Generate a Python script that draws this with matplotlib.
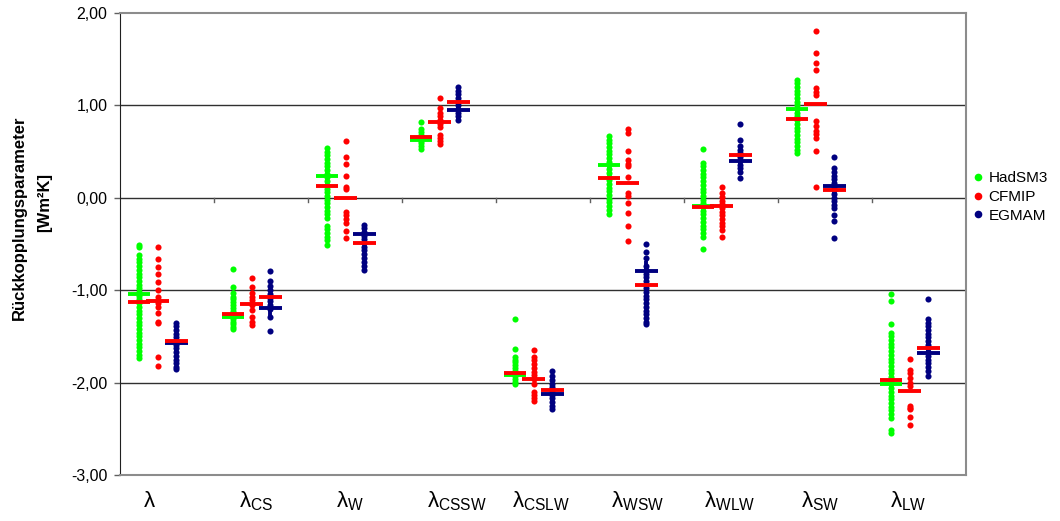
import matplotlib
matplotlib.use('Agg')
import matplotlib.pyplot as plt
import numpy as np
from matplotlib.ticker import FuncFormatter

plt.rcParams['font.family'] = ['Liberation Sans', 'DejaVu Sans']

categories = ['', 'CS', 'W', 'CSSW', 'CSLW', 'WSW', 'WLW', 'SW', 'LW']
series_names = ['HadSM3', 'CFMIP', 'EGMAM']
series_colors = ['#00ff00', '#ff0000', '#000080']

# HadSM3 ensemble members, one list per category
hadsm3 = [
    [-0.51, -0.53, -0.62, -0.66, -0.70, -0.74, -0.78, -0.82, -0.86, -0.90, -0.94, -0.98, -1.02, -1.06,
     -1.10, -1.14, -1.18, -1.22, -1.26, -1.30, -1.34, -1.38, -1.42, -1.46, -1.50, -1.54, -1.58, -1.62,
     -1.66, -1.70, -1.73],
    [-0.77, -0.97, -1.03, -1.07, -1.10, -1.13, -1.16, -1.19, -1.22, -1.25, -1.28, -1.31, -1.34, -1.37,
     -1.40, -1.42],
    [0.54, 0.50, 0.46, 0.42, 0.38, 0.34, 0.30, 0.26, 0.22, 0.18, 0.14, 0.10, 0.06, 0.02, -0.02, -0.06,
     -0.10, -0.14, -0.18, -0.22, -0.30, -0.34, -0.38, -0.42, -0.46, -0.51],
    [0.82, 0.74, 0.71, 0.68, 0.65, 0.62, 0.59, 0.56, 0.53],
    [-1.31, -1.64, -1.72, -1.75, -1.78, -1.81, -1.84, -1.87, -1.90, -1.93, -1.96, -1.99, -2.01],
    [0.67, 0.63, 0.59, 0.55, 0.51, 0.47, 0.43, 0.39, 0.35, 0.31, 0.27, 0.23, 0.19, 0.15, 0.11, 0.07,
     0.03, -0.01, -0.05, -0.09, -0.13, -0.18],
    [0.53, 0.38, 0.34, 0.30, 0.26, 0.22, 0.18, 0.14, 0.10, 0.06, 0.02, -0.02, -0.06, -0.10, -0.14,
     -0.18, -0.22, -0.26, -0.30, -0.34, -0.38, -0.42, -0.55],
    [1.28, 1.24, 1.20, 1.16, 1.12, 1.08, 1.04, 1.00, 0.96, 0.92, 0.88, 0.84, 0.80, 0.76, 0.72, 0.68,
     0.64, 0.60, 0.56, 0.52, 0.48],
    [-1.04, -1.12, -1.37, -1.46, -1.50, -1.54, -1.58, -1.62, -1.66, -1.70, -1.74, -1.78, -1.82, -1.86,
     -1.90, -1.94, -1.98, -2.02, -2.06, -2.10, -2.14, -2.18, -2.22, -2.26, -2.30, -2.34, -2.38, -2.51,
     -2.55],
]

cfmip = [
    [-0.53, -0.66, -0.75, -0.83, -0.91, -1.00, -1.07, -1.14, -1.18, -1.25, -1.34, -1.36, -1.72, -1.82],
    [-0.87, -0.97, -1.03, -1.07, -1.11, -1.16, -1.21, -1.29, -1.34, -1.38],
    [0.62, 0.44, 0.37, 0.24, 0.12, 0.09, -0.15, -0.19, -0.23, -0.27, -0.36, -0.43],
    [1.08, 0.97, 0.92, 0.88, 0.84, 0.80, 0.77, 0.68, 0.65, 0.61, 0.58],
    [-1.65, -1.72, -1.76, -1.80, -1.84, -1.88, -1.92, -1.96, -2.01, -2.10, -2.13, -2.17, -2.20],
    [0.74, 0.70, 0.51, 0.41, 0.37, 0.34, 0.22, 0.05, 0.02, -0.06, -0.16, -0.31, -0.47],
    [0.12, 0.05, 0.01, -0.03, -0.07, -0.11, -0.15, -0.19, -0.23, -0.27, -0.31, -0.35, -0.42],
    [1.80, 1.57, 1.46, 1.38, 1.19, 1.15, 1.11, 0.83, 0.78, 0.72, 0.69, 0.65, 0.51, 0.12],
    [-1.74, -1.86, -1.90, -1.95, -2.00, -2.04, -2.25, -2.27, -2.29, -2.37, -2.46],
]

egmam = [
    [-1.35, -1.39, -1.43, -1.47, -1.51, -1.55, -1.59, -1.63, -1.67, -1.71, -1.75, -1.79, -1.83, -1.85],
    [-0.79, -0.90, -0.95, -1.00, -1.04, -1.08, -1.12, -1.16, -1.20, -1.29, -1.44],
    [-0.29, -0.33, -0.37, -0.41, -0.45, -0.49, -0.53, -0.57, -0.61, -0.65, -0.70, -0.74, -0.78],
    [1.20, 1.16, 1.12, 1.08, 1.04, 1.00, 0.96, 0.92, 0.88, 0.84],
    [-1.87, -1.93, -1.97, -2.01, -2.05, -2.09, -2.13, -2.17, -2.21, -2.25, -2.29],
    [-0.50, -0.59, -0.65, -0.74, -0.78, -0.82, -0.86, -0.90, -0.94, -0.98, -1.02, -1.06, -1.10, -1.14,
     -1.18, -1.22, -1.26, -1.30, -1.34, -1.37],
    [0.80, 0.63, 0.56, 0.52, 0.48, 0.44, 0.40, 0.36, 0.32, 0.28, 0.21],
    [0.44, 0.32, 0.28, 0.24, 0.20, 0.16, 0.12, 0.08, 0.04, 0.00, -0.04, -0.08, -0.11, -0.19, -0.25, -0.43],
    [-1.09, -1.31, -1.35, -1.39, -1.43, -1.47, -1.51, -1.55, -1.59, -1.63, -1.67, -1.71, -1.75, -1.79,
     -1.83, -1.87, -1.93],
]

# "+" markers (ensemble mean) for HadSM3 and EGMAM
hadsm3_cross = [-1.04, -1.29, 0.24, 0.63, -1.92, 0.36, -0.09, 0.96, -2.01]
egmam_cross = [-1.57, -1.19, -0.39, 0.945, -2.12, -0.79, 0.40, 0.13, -1.68]
# red dashes for each series
hadsm3_dash = [-1.13, -1.26, 0.13, 0.66, -1.90, 0.21, -0.10, 0.855, -1.97]
cfmip_dash = [-1.12, -1.15, -0.005, 0.82, -1.96, 0.165, -0.09, 1.02, -2.09]
egmam_dash = [-1.55, -1.07, -0.49, 1.035, -2.08, -0.94, 0.465, 0.08, -1.63]

yticks = [2, 1, 0, -1, -2, -3]

fig = plt.figure(figsize=(10.6, 5.21), dpi=100)
ax = fig.add_axes([120 / 1060, 46 / 521, 846 / 1060, 462 / 521])
ax.set_xlim(0, len(categories))
ax.set_ylim(-3, 2)

for y in yticks[1:-1]:
    ax.axhline(y, color='#303030', lw=1.0, zorder=1)

col_off = [0.2, 0.4, 0.6]
all_series = [hadsm3, cfmip, egmam]
for s, data in enumerate(all_series):
    for k, vals in enumerate(data):
        ax.plot(np.full(len(vals), k + col_off[s]), vals, 'o', ms=4.4, color=series_colors[s],
                mec='none', zorder=3)

hw, hh = 0.12, 0.105
for k in range(len(categories)):
    for s, cross in [(0, hadsm3_cross), (2, egmam_cross)]:
        x = k + col_off[s]
        ax.hlines(cross[k], x - hw, x + hw, color=series_colors[s], lw=2.8, zorder=4)
        ax.vlines(x, cross[k] - hh, cross[k] + hh, color=series_colors[s], lw=2.8, zorder=4)
    for s, dash in [(0, hadsm3_dash), (1, cfmip_dash), (2, egmam_dash)]:
        x = k + col_off[s]
        ax.hlines(dash[k], x - hw, x + hw, color='#ff0000', lw=2.8, zorder=5)

# small category ticks on the zero line
for k in range(1, len(categories)):
    ax.plot([k, k], [0, -0.045], color='#606060', lw=1.0, zorder=1)

ax.set_yticks(yticks)
ax.yaxis.set_major_formatter(FuncFormatter(lambda v, p: f'{v:.2f}'.replace('.', ',')))
ax.tick_params(axis='y', length=4, width=1, pad=5, labelsize=11.5, color='#606060')
ax.set_xticks([])
for side in ['top', 'right', 'bottom']:
    ax.spines[side].set_color('#8c8c8c')
    ax.spines[side].set_linewidth(1.5)
ax.spines['left'].set_color('#202020')

label_shift = [-0.19, -0.05, -0.05, 0.08, -0.02, 0.01, -0.01, -0.05, -0.11]
for k, c in enumerate(categories):
    lab = r'$\mathregular{λ_{%s}}$' % c if c else r'$\mathregular{λ}$'
    ax.annotate(lab, xy=(k + 0.5 + label_shift[k], -3), xytext=(0, -32),
                textcoords='offset pixels', ha='center', va='baseline', fontsize=16)

fig.text(19 / 1060, 1 - 218 / 521, 'Rückkopplungsparameter', rotation=90, ha='center', va='center',
         fontsize=12, fontweight='bold')
fig.text(45 / 1060, 1 - 203 / 521, '[Wm²K]', rotation=90, ha='center', va='center',
         fontsize=12, fontweight='bold')

handles = [plt.Line2D([], [], ls='none', marker='o', ms=5.5, color=c, mec='none') for c in series_colors]
fig.legend(handles, series_names, loc='center left', bbox_to_anchor=(973 / 1060, 1 - 197 / 521),
           frameon=False, fontsize=11, handlelength=0.6, handletextpad=0.4, labelspacing=0.3,
           borderaxespad=0, borderpad=0)

fig.savefig('out.png', dpi=100)
